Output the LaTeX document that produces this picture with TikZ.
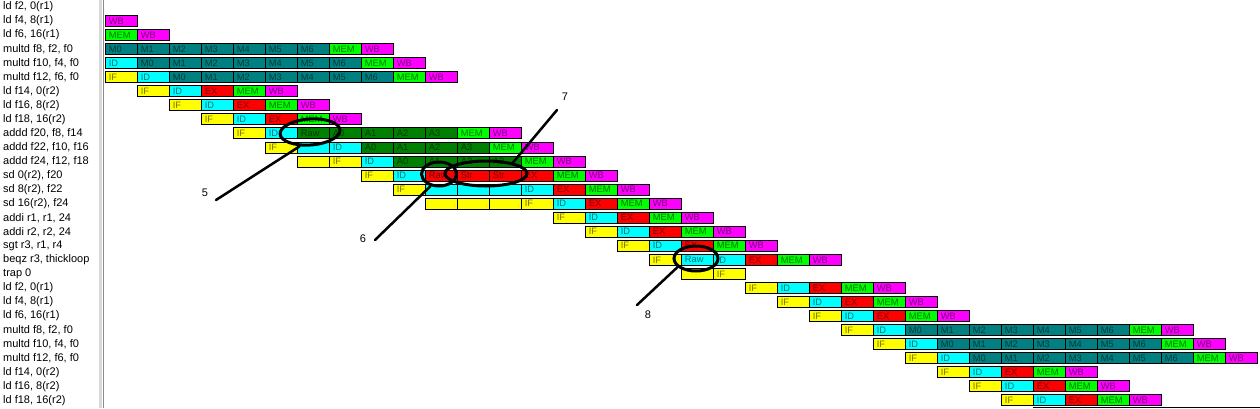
\documentclass[tikz,border=0pt]{standalone}
\usepackage{fontspec}
\setmainfont{Liberation Sans}
\usepackage{tikz}
\usetikzlibrary{shapes.geometric}
\definecolor{ifc}{HTML}{FFFF00}
\definecolor{idc}{HTML}{00FFFF}
\definecolor{exc}{HTML}{FF0000}
\definecolor{memc}{HTML}{00FF00}
\definecolor{wbc}{HTML}{FF00FF}
\definecolor{mulc}{HTML}{008080}
\definecolor{addc}{HTML}{008000}
\newcommand{\basic}{ifbox/IF,idbox/ID,exbox/EX,membox/MEM,wbbox/WB}
\newcommand{\mstages}{mulbox/M0,mulbox/M1,mulbox/M2,mulbox/M3,mulbox/M4,mulbox/M5,mulbox/M6}
\newcommand{\astages}{addbox/A0,addbox/A1,addbox/A2,addbox/A3}
\newcommand{\pipe}[3]{%
  \edef\pipelist{#3}%
  \foreach \sty/\txt [count=\kk from 0, evaluate=\kk as \cc using int(#2+\kk)] in \pipelist {%
    \node[\sty] (r#1c\cc) at ({105+32*\cc},{1+14.05*#1}) {\txt};
  }}

\begin{document}
\begin{tikzpicture}[
  x=1pt,y=-1pt,
  cell/.style={rectangle,draw=black,line width=0.8pt,anchor=north west,minimum height=11pt,
    text width=25pt,inner xsep=3.5pt,inner ysep=0pt,align=left,font=\fontsize{9.3}{9.3}\selectfont},
  ifbox/.style={cell,fill=ifc,text=ifc!45!black},
  idbox/.style={cell,fill=idc,text=idc!45!black},
  exbox/.style={cell,fill=exc,text=exc!45!black},
  membox/.style={cell,fill=memc,text=memc!45!black},
  wbbox/.style={cell,fill=wbc,text=wbc!45!black},
  mulbox/.style={cell,fill=mulc,text=mulc!45!black},
  addbox/.style={cell,fill=addc,text=addc!45!black},
  rowlab/.style={anchor=west,inner sep=0pt,font=\fontsize{11}{11}\selectfont},
  hazard/.style={ellipse,draw=black,line width=3pt,inner sep=0pt},
  callout/.style={line width=2.5pt,line cap=round},
  num/.style={inner sep=0pt,font=\fontsize{11}{11}\selectfont}
]
\fill[white] (0,0) rectangle (1260,408);
\useasboundingbox (0,0) rectangle (1260,408);
\draw[black!15,line width=3pt] (100.5,0) -- (100.5,408);
\draw[black!45,line width=1pt] (103.5,0) -- (103.5,408);
\draw[line width=1pt] (1033,407) -- (1260,407);

\foreach \txt [count=\row from 0] in {{ld f2, 0(r1)},{ld f4, 8(r1)},{ld f6, 16(r1)},
  {multd f8, f2, f0},{multd f10, f4, f0},{multd f12, f6, f0},{ld f14, 0(r2)},{ld f16, 8(r2)},
  {ld f18, 16(r2)},{addd f20, f8, f14},{addd f22, f10, f16},{addd f24, f12, f18},
  {sd 0(r2), f20},{sd 8(r2), f22},{sd 16(r2), f24},{addi r1, r1, 24},{addi r2, r2, 24},
  {sgt r3, r1, r4},{beqz r3, thickloop},{trap 0},{ld f2, 0(r1)},{ld f4, 8(r1)},{ld f6, 16(r1)},
  {multd f8, f2, f0},{multd f10, f4, f0},{multd f12, f6, f0},{ld f14, 0(r2)},{ld f16, 8(r2)},
  {ld f18, 16(r2)}}
  \node[rowlab] (lab\row) at (3,{7+14.05*\row}) {\txt};

\pipe{1}{0}{wbbox/WB}
\pipe{2}{0}{membox/MEM,wbbox/WB}
\pipe{3}{0}{\mstages,membox/MEM,wbbox/WB}
\pipe{4}{0}{idbox/ID,\mstages,membox/MEM,wbbox/WB}
\pipe{5}{0}{ifbox/IF,idbox/ID,\mstages,membox/MEM,wbbox/WB}
\pipe{6}{1}{\basic}
\pipe{7}{2}{\basic}
\pipe{8}{3}{\basic}
\pipe{9}{4}{ifbox/IF,idbox/ID,addbox/Raw,\astages,membox/MEM,wbbox/WB}
\pipe{10}{5}{ifbox/IF,idbox/{},idbox/ID,\astages,membox/MEM,wbbox/WB}
\pipe{11}{6}{ifbox/{},ifbox/IF,idbox/ID,\astages,membox/MEM,wbbox/WB}
\pipe{12}{8}{ifbox/IF,idbox/ID,exbox/Raw,exbox/Str,exbox/Str,exbox/EX,membox/MEM,wbbox/WB}
\pipe{13}{9}{ifbox/IF,idbox/{},idbox/{},idbox/{},idbox/ID,exbox/EX,membox/MEM,wbbox/WB}
\pipe{14}{10}{ifbox/{},ifbox/{},ifbox/{},\basic}
\pipe{15}{14}{\basic}
\pipe{16}{15}{\basic}
\pipe{17}{16}{\basic}
\pipe{18}{17}{ifbox/IF,idbox/Raw,idbox/ID,exbox/EX,membox/MEM,wbbox/WB}
\pipe{19}{18}{ifbox/{},ifbox/IF}
\pipe{20}{20}{\basic}
\pipe{21}{21}{\basic}
\pipe{22}{22}{\basic}
\pipe{23}{23}{ifbox/IF,idbox/ID,\mstages,membox/MEM,wbbox/WB}
\pipe{24}{24}{ifbox/IF,idbox/ID,\mstages,membox/MEM,wbbox/WB}
\pipe{25}{25}{ifbox/IF,idbox/ID,\mstages,membox/MEM,wbbox/WB}
\pipe{26}{26}{\basic}
\pipe{27}{27}{\basic}
\pipe{28}{28}{\basic}

\node[hazard,minimum width=60pt,minimum height=26pt,rotate=4] (e5) at (310,132) {};
\node[hazard,minimum width=35pt,minimum height=24pt] (e6) at (439,174) {};
\node[hazard,minimum width=82pt,minimum height=25pt] (e7) at (486,173.5) {};
\node[hazard,minimum width=44pt,minimum height=25pt] (e8) at (696,258.5) {};
\node[num] (n5) at (205,193) {5};
\node[num] (n6) at (363,239) {6};
\node[num] (n7) at (565,97) {7};
\node[num] (n8) at (648,315) {8};
\coordinate (t5) at (216,200);
\coordinate (t6) at (375,240);
\coordinate (t7) at (557,110);
\coordinate (t8) at (637,305);
\draw[callout] (e5.230) -- (t5);
\draw[callout] (e6.235) -- (t6);
\draw[callout] (e7.22) -- (t7);
\draw[callout] (e8.205) -- (t8);
\end{tikzpicture}
\end{document}
